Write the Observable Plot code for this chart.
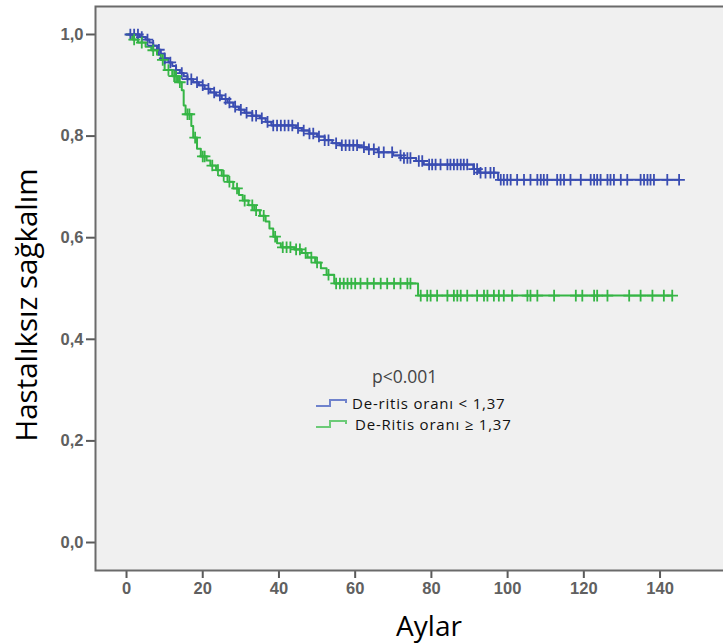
<!DOCTYPE html>
<html><head><meta charset="utf-8">
<script src="https://cdn.jsdelivr.net/npm/d3@7"></script>
<script src="https://cdn.jsdelivr.net/npm/@observablehq/plot@0.6"></script>
<style>
body{margin:0;background:#fff;}
#chart svg{display:block;}
</style>
</head><body><div id="chart"></div>
<script>
// ---- Data ----
const groups = ["De-ritis oranı < 1,37", "De-Ritis oranı ≥ 1,37"];
const legendTitle = "p<0.001";
const xLabel = "Aylar";
const yLabel = "Hastalıksız sağkalım";
const xTicks = [0, 20, 40, 60, 80, 100, 120, 140];
const yTicks = [0, 0.2, 0.4, 0.6, 0.8, 1.0];

// Group 1 (blue): event times and survival after each step
const blueT = [0, 3.5, 5, 6, 7, 8, 9, 10, 11, 12, 13, 14, 15, 16, 17.5, 19, 20.5, 22, 23.5, 25, 26.5, 28, 29.5, 31, 33, 35, 36.5, 38, 44.5, 46, 48, 50, 52, 54, 56, 61, 63, 66, 70, 72, 76, 78, 91, 92.5, 97.5];
const blueS = [1.0, 0.995, 0.99, 0.984, 0.978, 0.97, 0.962, 0.953, 0.945, 0.938, 0.93, 0.924, 0.918, 0.912, 0.906, 0.9, 0.893, 0.886, 0.88, 0.873, 0.866, 0.858, 0.852, 0.846, 0.84, 0.835, 0.828, 0.821, 0.816, 0.811, 0.805, 0.799, 0.792, 0.786, 0.782, 0.778, 0.774, 0.768, 0.762, 0.757, 0.751, 0.744, 0.735, 0.728, 0.714];
const blueCensor = [1, 2, 3, 4, 5.5, 7, 8.5, 10, 11.5, 13, 14.5, 16, 17, 18.5, 20, 21.5, 23, 24.5, 26, 27, 28.5, 30, 31.5, 33, 34, 35.5, 37, 38.5, 39.5, 40.5, 41.5, 42.5, 43.5, 45, 46.5, 48, 49, 50.5, 52, 53, 55, 56.5, 57.5, 58.5, 59.5, 60.5,
  62.3, 63.6, 64.9, 66.2, 67.5, 69.7, 71.9, 72.8, 73.7, 74.5, 76.7, 77.6, 79.4, 80.2, 81.1, 82.4, 84.2, 85.0, 85.9, 86.8, 87.7, 88.5, 89.4, 91.2, 92.0, 92.9, 94.2, 95.5, 96.4, 98.2, 99.0, 99.9, 100.8, 102.5, 104.3, 106.0, 107.8, 108.7, 109.5, 110.4, 113.0, 113.9, 114.8, 116.5, 119.2, 121.8, 122.7, 123.5, 124.4, 126.2, 127.0, 127.9, 129.7, 131.4, 134.9, 135.8, 136.7, 137.5, 138.4, 141.9, 145.0];

// Group 2 (green)
const greenT = [0, 1.5, 3, 5, 6.5, 8, 9, 10, 12, 13.5, 14.5, 15, 15.5, 17, 17.5, 18.5, 19.5, 21, 22, 23.5, 25, 26.5, 28, 29.5, 30.5, 32, 33.5, 35, 36.5, 37.5, 38.5, 39.5, 40.5, 44, 46, 47.5, 49.5, 51, 52.5, 54.5, 76.5];
const greenS = [1.0, 0.99, 0.984, 0.976, 0.969, 0.96, 0.95, 0.93, 0.918, 0.906, 0.89, 0.86, 0.843, 0.82, 0.797, 0.775, 0.76, 0.752, 0.742, 0.733, 0.722, 0.71, 0.697, 0.684, 0.673, 0.664, 0.654, 0.643, 0.632, 0.618, 0.602, 0.589, 0.581, 0.577, 0.57, 0.561, 0.551, 0.54, 0.527, 0.51, 0.486];
const greenCensor = [2, 4, 7, 9.5, 11, 12.5, 13, 14, 16, 16.5, 18, 20, 20.5, 22.5, 24, 25.5, 27, 29, 31, 33, 34, 36, 39, 41, 42, 43, 44.5, 45.5, 47, 48.5, 50, 53, 55, 56, 57, 58, 59, 60,
  61.4, 63.2, 64.9, 66.7, 68.4, 70.2, 71.9, 73.7, 74.5, 77.2, 78.9, 79.8, 81.5, 84.2, 85.9, 86.8, 87.7, 89.4, 92.0, 93.8, 94.7, 96.4, 97.7, 99.0, 101.2, 105.2, 106.0, 107.8, 112.2, 117.9, 119.6, 122.7, 123.5, 126.2, 131.9, 134.9, 138.0, 141.0, 143.2];

const colors = ["#3a4db2", "#35b545"];
const legendColors = ["#6f82cc", "#6ccb78"];

// ---- Build tables ----
function stepValue(ts, ss, t) {
  let v = ss[0];
  for (let i = 0; i < ts.length; i++) if (ts[i] <= t) v = ss[i];
  return v;
}
function curveRows(ts, ss, cens, g) {
  const rows = ts.map((t, i) => ({t, s: ss[i], g}));
  const end = d3.max(cens);
  rows.push({t: end, s: stepValue(ts, ss, end), g});
  return rows;
}
function censorRows(ts, ss, cens, g) {
  return cens.map(t => ({t, s: stepValue(ts, ss, t), g}));
}
const lines = [...curveRows(blueT, blueS, blueCensor, groups[0]), ...curveRows(greenT, greenS, greenCensor, groups[1])];
const marks = [...censorRows(blueT, blueS, blueCensor, groups[0]), ...censorRows(greenT, greenS, greenCensor, groups[1])];

const plot = Plot.plot({
  width: 723, height: 644,
  marginLeft: 95, marginTop: 6, marginRight: -4, marginBottom: 74,
  style: {background: "#ffffff", fontFamily: "'Liberation Sans', Arial, sans-serif", fontSize: "16.5px", color: "#606060", overflow: "visible"},
  x: {domain: [-8.14, 157.7], ticks: xTicks, tickSize: 8, tickPadding: 4, label: null, tickFormat: d => String(d)},
  y: {domain: [-0.0551, 1.0551], ticks: yTicks, tickSize: 9, tickPadding: 3, label: null, tickFormat: d => d.toFixed(1).replace(".", ",")},
  color: {domain: groups, range: colors},
  marks: [
    Plot.frame({fill: "#f0f0f0", stroke: "none"}),
    Plot.line(lines, {x: "t", y: "s", z: "g", stroke: "g", curve: "step-after", strokeWidth: 2}),
    Plot.dot(marks, {x: "t", y: "s", stroke: "g", fill: "none", symbol: "plus", r: 3.8, strokeWidth: 1.8}),
    Plot.frame({stroke: "#6a6a6a", strokeWidth: 2})
  ]
});
document.getElementById("chart").appendChild(plot);

const svg = d3.select(plot);
svg.selectAll("text").style("font-weight", "bold");
svg.selectAll("g[aria-label*='tick'] path, g[aria-label*='tick'] line").attr("stroke", "#5a5a5a").attr("stroke-width", 2);

// Axis titles
const labelFont = "'Open Sans', 'Noto Sans', sans-serif";
svg.append("text").text(yLabel)
  .attr("transform", "translate(37,305) rotate(-90)")
  .attr("text-anchor", "middle")
  .style("font-family", labelFont).style("font-size", "29.5px").style("font-weight", "normal").attr("fill", "#000");
svg.append("text").text(xLabel)
  .attr("x", 429).attr("y", 636)
  .attr("text-anchor", "middle")
  .style("font-family", labelFont).style("font-size", "28px").style("font-weight", "normal").attr("fill", "#000");

// Legend
const lg = svg.append("g").style("font-family", labelFont).style("font-weight", "normal").attr("text-anchor", "start");
lg.append("text").text(legendTitle).attr("x", 372).attr("y", 383).attr("text-anchor", "start")
  .style("font-size", "17.5px").attr("fill", "#444");
const rows = [{y: 403, tx: 352}, {y: 424, tx: 355}];
groups.forEach((g, i) => {
  const y = rows[i].y;
  lg.append("path")
    .attr("d", `M316,${y + 3}H330V${y - 3}H346V${y}`)
    .attr("fill", "none").attr("stroke", legendColors[i]).attr("stroke-width", 2);
  lg.append("text").text(g).attr("x", rows[i].tx).attr("y", y + 5.5).attr("text-anchor", "start")
    .style("font-size", "15px").style("letter-spacing", "0.8px").attr("fill", "#111");
});
</script>
</body></html>
